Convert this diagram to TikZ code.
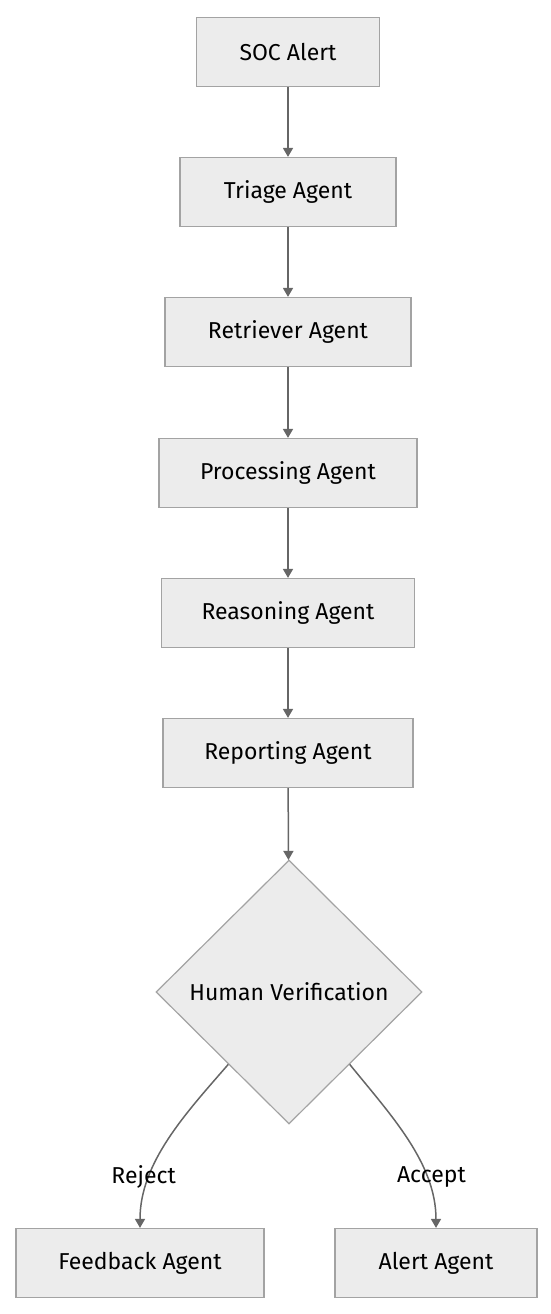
\documentclass[tikz,border=0pt]{standalone}
\usepackage{fontspec}
\setmainfont{Fira Sans}
\usetikzlibrary{shapes.geometric,arrows.meta}
\definecolor{boxfill}{HTML}{ECECEC}
\definecolor{boxline}{HTML}{A3A3A3}
\definecolor{flowline}{HTML}{666666}
\tikzstyle{node_agent} = [rectangle, draw=boxline, fill=boxfill, line width=1.2pt, minimum height=69pt, inner sep=0pt, font=\fontsize{23}{27}\selectfont]
\tikzstyle{node_check} = [diamond, draw=boxline, fill=boxfill, line width=1.2pt, minimum width=266pt, minimum height=264pt, inner sep=0pt, font=\fontsize{23}{27}\selectfont]
\tikzstyle{edge_flow} = [draw=flowline, line width=1.5pt, -{Triangle[width=10pt,length=9pt]}]
\tikzstyle{edge_label} = [font=\fontsize{23}{27}\selectfont, text=black]

\begin{document}
\begin{tikzpicture}[x=1pt,y=1pt]
			\useasboundingbox (0,0) rectangle (550,-1314);
			\node (soc) at (288,-52) [node_agent, minimum width=183pt] {SOC Alert};
			\node (triage) at (288,-192) [node_agent, minimum width=216pt] {Triage Agent};
			\node (retriever) at (288,-332) [node_agent, minimum width=246pt] {Retriever Agent};
			\node (processing) at (288,-473) [node_agent, minimum width=258pt] {Processing Agent};
			\node (reasoning) at (288,-613) [node_agent, minimum width=253pt] {Reasoning Agent};
			\node (reporting) at (288,-753) [node_agent, minimum width=250pt] {Reporting Agent};
			\node (verify) at (289,-992) [node_check] {Human Verification};
			\node (feedback) at (140,-1263) [node_agent, minimum width=248pt] {Feedback Agent};
			\node (alert) at (436,-1263) [node_agent, minimum width=202pt] {Alert Agent};
			
			\draw[edge_flow] (soc)--(triage);
			\draw[edge_flow] (triage)--(retriever);
			\draw[edge_flow] (retriever)--(processing);
			\draw[edge_flow] (processing)--(reasoning);
			\draw[edge_flow] (reasoning)--(reporting);
			\draw[edge_flow] (reporting)--(verify);
			\draw[edge_flow] (verify.-130) to[out=229,in=90,looseness=0.9] node[edge_label, pos=0.72, xshift=-6pt] {Reject} (feedback.north);
			\draw[edge_flow] (verify.-50) to[out=-51,in=90,looseness=0.9] node[edge_label, pos=0.72, xshift=5pt] {Accept} (alert.north);
		\end{tikzpicture}
\end{document}
